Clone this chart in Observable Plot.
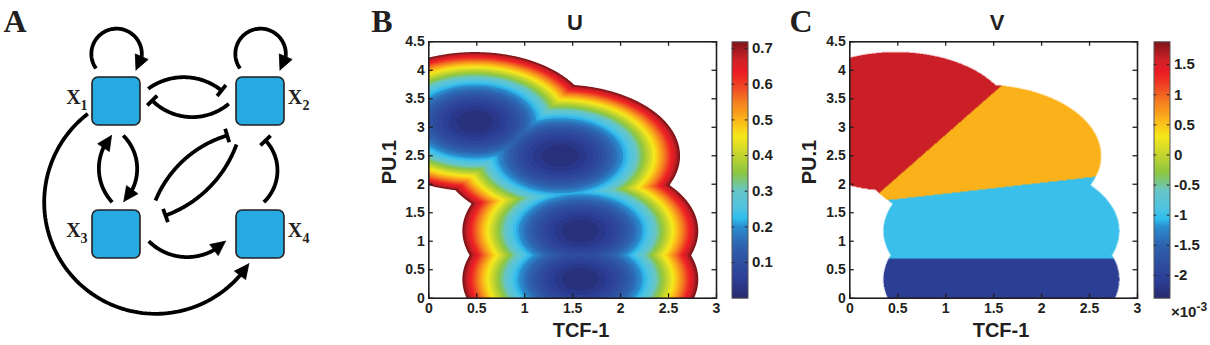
<!DOCTYPE html>
<html><head><meta charset="utf-8">
<script src="https://cdn.jsdelivr.net/npm/d3@7"></script>
<script src="https://cdn.jsdelivr.net/npm/@observablehq/plot@0.6"></script>
<style>
body{margin:0;background:#fff;}
#fig{position:relative;width:1210px;height:345px;overflow:hidden;background:#fff;font-family:"Liberation Sans",Arial,sans-serif;color:#231f20}
.abs{position:absolute;top:0}
.lab{position:absolute;transform:translate(-50%,-50%);font-weight:bold;line-height:1;white-space:nowrap}
.letter{font-family:"Liberation Serif","Times New Roman",serif;font-size:32px}
.ttl{font-size:22px}
.axl{font-size:20px}
.rot{transform:translate(-50%,-50%) rotate(-90deg)}
</style>
</head><body><div id="fig">
<div class="lab letter" style="left:15px;top:21px">A</div>
<div class="lab letter" style="left:382px;top:21px">B</div>
<div class="lab letter" style="left:801px;top:21px">C</div>
<div class="lab ttl" style="left:575px;top:23px">U</div>
<div class="lab ttl" style="left:997px;top:23px">V</div>
<div class="lab axl" style="left:581px;top:330px">TCF-1</div>
<div class="lab axl" style="left:1001px;top:330px">TCF-1</div>
<div class="lab axl rot" style="left:389px;top:162px">PU.1</div>
<div class="lab axl rot" style="left:809px;top:162px">PU.1</div>
<div class="lab" style="left:1189px;top:310px;font-size:15px">×10<sup style="font-size:12px;vertical-align:6px">-3</sup></div>
</div>
<script>
// ---------- Panel A: network ----------
const nodeIds = ["X1","X2","X3","X4"];
const nodeSub = ["1","2","3","4"];
const nodeX = [116,260,116,260];
const nodeY = [101,101,234,234];
const nodeLabelSide = [-1,1,-1,1];

const edgeFrom = ["X1","X2","X1","X2","X1","X3","X3","X2","X4","X3","X1"];
const edgeTo   = ["X1","X2","X2","X1","X3","X1","X2","X3","X2","X4","X4"];
const edgeType = ["act","act","inh","inh","act","act","inh","inh","inh","act","act"];
const edgeStartOff = [[-20.5,-33],[-20.5,-33],[31.7,-12.7],[-31.7,2.3],[6.7,34],[-4.3,-32.3],[39,-34],[-24,43],[3.3,-32.3],[32.3,6.7],[-28.7,12.3]];
const edgeEndOff   = [[19.5,-31.5],[19.5,-31.5],[-39,-11],[35.7,-1],[7.3,-33],[-5,34],[-33.3,34],[49,-19],[5,39],[-35,6.7],[-11.7,29.3]];
const edgeBend = [255,255,75,85,90,85,51,50,-90,-90,-199];

// ---------- Panel B: landscape U ----------
const Umax = 0.719;
const wellX = [0.48,1.37,1.58,1.58];
const wellY = [3.10,2.50,1.18,0.33];
const wellR = [1.22,1.25,1.23,1.23];
const axisXTicks = [0,0.5,1,1.5,2,2.5,3];
const axisYTicks = [0,0.5,1,1.5,2,2.5,3,3.5,4,4.5];
const uBarTicks = [0.1,0.2,0.3,0.4,0.5,0.6,0.7];

// ---------- Panel C: regions V (x10^-3) ----------
const vRegionValue = {red:1.6, orange:0.6, cyan:-1.0, navy:-2.1};
const vBoundaryRedOrange = [[0.327,1.877],[1.5625,3.70]];
const vBoundaryOrangeCyan = [[0.424,1.726],[2.577,2.135]];
const vBoundaryCyanNavy = 0.69;
const vDomain = [-2.38,1.88];
const vBarTicks = [-2,-1.5,-1,-0.5,0,0.5,1,1.5];

// colormap
const cmapT = [0,0.07,0.14,0.21,0.28,0.31,0.35,0.42,0.49,0.56,0.63,0.70,0.77,0.84,0.88,0.93,1.0];
const cmapC = ["#262a6e","#2c3e96","#2e4fa0","#2e64b0","#2a8fd0","#2fbdee","#4fc3e2","#67c6c6","#8dc63f","#c6d52f","#f6e91b","#fbb21a","#f37a21","#ee3a24","#ed1c24","#cf2027","#7d1518"];

const ink = "#231f20";
const fig = document.getElementById("fig");
function place(el, left){ const d=document.createElement("div"); d.className="abs"; d.style.left=left+"px"; d.appendChild(el); fig.insertBefore(d, fig.firstChild); }

// ---- build network geometry
const nodes = nodeIds.map((id,i)=>({id, x:nodeX[i], y:nodeY[i], sub:nodeSub[i], side:nodeLabelSide[i]}));
const nodeById = Object.fromEntries(nodes.map(n=>[n.id,n]));
const headLen = 14.5, headHalf = 7, barHalf = 7;
const arcPts = [], headPts = [], bars = [];
edgeFrom.forEach((f,k)=>{
  const A = nodeById[f], B = nodeById[edgeTo[k]];
  const P = [A.x+edgeStartOff[k][0], A.y+edgeStartOff[k][1]];
  const Q = [B.x+edgeEndOff[k][0], B.y+edgeEndOff[k][1]];
  const dx=Q[0]-P[0], dy=Q[1]-P[1], c=Math.hypot(dx,dy);
  const ux=dx/c, uy=dy/c, nx=uy, ny=-ux;
  const s=Math.sign(edgeBend[k]), b=Math.abs(edgeBend[k])*Math.PI/180;
  const r=c/(2*Math.sin(b/2)), h=r*Math.cos(b/2);
  const mx=(P[0]+Q[0])/2, my=(P[1]+Q[1])/2;
  const ox=mx-nx*s*h, oy=my-ny*s*h;
  const bx=mx+nx*s*(r-h), by=my+ny*s*(r-h);
  const a0=Math.atan2(P[1]-oy,P[0]-ox), ab=Math.atan2(by-oy,bx-ox);
  const dir = Math.cos(a0+b/2-ab) > Math.cos(a0-b/2-ab) ? 1 : -1;
  const aQ = a0+dir*b;
  const trim = edgeType[k]==="act" ? headLen*0.7 : 0;
  const aE = aQ - dir*trim/r;
  const n = 90;
  for(let i=0;i<=n;i++){ const a=a0+(aE-a0)*i/n; arcPts.push({id:k, x:ox+r*Math.cos(a), y:oy+r*Math.sin(a)}); }
  if(edgeType[k]==="act"){
    const aB = aQ - dir*headLen/r;
    const Bx=ox+r*Math.cos(aB), By=oy+r*Math.sin(aB);
    let tx=Q[0]-Bx, ty=Q[1]-By; const L=Math.hypot(tx,ty); tx/=L; ty/=L;
    const px=-ty, py=tx, cx=Q[0]-tx*headLen, cy=Q[1]-ty*headLen;
    headPts.push({id:k,x:Q[0],y:Q[1]},{id:k,x:cx+px*headHalf,y:cy+py*headHalf},{id:k,x:cx-px*headHalf,y:cy-py*headHalf},{id:k,x:Q[0],y:Q[1]});
  } else {
    const tx=-Math.sin(aQ)*dir, ty=Math.cos(aQ)*dir;
    const px=-ty, py=tx;
    bars.push({x1:Q[0]-px*barHalf,y1:Q[1]-py*barHalf,x2:Q[0]+px*barHalf,y2:Q[1]+py*barHalf});
  }
});

const plotA = Plot.plot({
  width: 330, height: 345, margin: 0,
  x: {type:"identity", axis:null}, y: {type:"identity", axis:null},
  style: {background:"transparent", overflow:"visible"},
  marks: [
    Plot.line(arcPts, {x:"x", y:"y", z:"id", stroke:"#000", strokeWidth:3.8, strokeLinecap:"butt", strokeLinejoin:"round"}),
    Plot.line(headPts, {x:"x", y:"y", z:"id", fill:"#000", stroke:"#000", strokeWidth:0.8, strokeLinejoin:"miter"}),
    Plot.link(bars, {x1:"x1", y1:"y1", x2:"x2", y2:"y2", stroke:"#000", strokeWidth:3.8, strokeLinecap:"butt"}),
    Plot.rect(nodes, {x1:d=>d.x-24, x2:d=>d.x+24, y1:d=>d.y-24, y2:d=>d.y+24, rx:6, fill:"#27aae1", stroke:ink, strokeWidth:1.6}),
    Plot.text(nodes, {x:d=>d.x+d.side*(d.side<0?43:34.5), y:d=>d.y-4, text:()=>"X", fontFamily:"Liberation Serif, Times New Roman, serif", fontWeight:"bold", fontSize:20, fill:ink}),
    Plot.text(nodes, {x:d=>d.x+d.side*(d.side<0?32.5:45.5), y:d=>d.y+4, text:"sub", fontFamily:"Liberation Serif, Times New Roman, serif", fontWeight:"bold", fontSize:14, fill:ink})
  ]
});
place(plotA, 0);

// ---- landscape helpers
function U(x,y){
  let m=Infinity;
  for(let i=0;i<wellX.length;i++){ const d=((x-wellX[i])**2+(y-wellY[i])**2)/(wellR[i]**2); if(d<m) m=d; }
  return Umax*m;
}
function lineY(seg,x){ const [[x0,y0],[x1,y1]]=seg; return y0+(x-x0)*(y1-y0)/(x1-x0); }
function lineX(seg,y){ const [[x0,y0],[x1,y1]]=seg; return x0+(y-y0)*(x1-x0)/(y1-y0); }
function V(x,y){
  if(U(x,y)>Umax) return NaN;
  if(y<vBoundaryCyanNavy) return vRegionValue.navy;
  if(y<lineY(vBoundaryOrangeCyan,x)) return vRegionValue.cyan;
  if(x<lineX(vBoundaryRedOrange,y)) return vRegionValue.red;
  return vRegionValue.orange;
}

const axisStyle = {background:"transparent", fontFamily:"Liberation Sans, Arial, sans-serif", fontSize:"14px", fontWeight:"bold", color:ink, overflow:"visible"};
const tkX = 4.5/95.9, tkY = 4.5/56.98;
function frameMarks(){
  return [
    Plot.ruleX(axisXTicks, {x:d=>d, y1:0, y2:tkY, stroke:ink, strokeWidth:1.3}),
    Plot.ruleX(axisXTicks, {x:d=>d, y1:4.5-tkY, y2:4.5, stroke:ink, strokeWidth:1.3}),
    Plot.ruleY(axisYTicks, {y:d=>d, x1:0, x2:tkX, stroke:ink, strokeWidth:1.3}),
    Plot.ruleY(axisYTicks, {y:d=>d, x1:3-tkX, x2:3, stroke:ink, strokeWidth:1.3}),
    Plot.frame({stroke:ink, strokeWidth:1.6}),
    Plot.axisX(axisXTicks, {tickSize:0, tickPadding:5, tickFormat:d=>String(d), label:null}),
    Plot.axisY(axisYTicks, {tickSize:0, tickPadding:4, tickFormat:d=>String(d), label:null})
  ];
}
const uLevels = d3.range(40,0,-1).map(i=>-Umax*i/40);

const plotB = Plot.plot({
  width: 365, height: 345, marginLeft: 68.3, marginRight: 9, marginTop: 41.3, marginBottom: 47.3,
  x: {domain:[0,3]}, y: {domain:[0,4.5]},
  color: {type:"linear", domain: cmapT.map(t=>-t*Umax).reverse(), range: cmapC.slice().reverse(), interpolate:"rgb", clamp:true},
  style: axisStyle,
  marks: [
    Plot.contour({fill:(x,y)=>-U(x,y), x1:0, x2:3, y1:0, y2:4.5, thresholds:uLevels, pixelSize:1, stroke:"none"}),
    ...frameMarks()
  ]
});
place(plotB, 360);

function colorbar(domain, ticks, tickFmt){
  return Plot.plot({
    width: 62, height: 345, marginLeft: 6.5, marginRight: 39.5, marginTop: 41.3, marginBottom: 47.3,
    x: {domain:[0,1], axis:null}, y: {domain},
    color: {type:"linear", domain: cmapT.map(t=>domain[0]+t*(domain[1]-domain[0])), range: cmapC, interpolate:"rgb"},
    style: {...axisStyle, fontSize:"15px"},
    marks: [
      Plot.raster({fill:(x,y)=>y, x1:0, x2:1, y1:domain[0], y2:domain[1], pixelSize:1}),
      Plot.ruleY(ticks, {y:d=>d, x1:0, x2:0.17, stroke:ink, strokeWidth:1}),
      Plot.ruleY(ticks, {y:d=>d, x1:0.83, x2:1, stroke:ink, strokeWidth:1}),
      Plot.frame({stroke:"#555", strokeWidth:1}),
      Plot.axisY(ticks, {anchor:"right", tickSize:0, tickPadding:4, tickFormat:tickFmt, label:null})
    ]
  });
}
place(colorbar([0,Umax], uBarTicks, d=>String(d)), 725);

const plotC = Plot.plot({
  width: 367, height: 345, marginLeft: 69.3, marginRight: 10, marginTop: 41.3, marginBottom: 47.3,
  x: {domain:[0,3]}, y: {domain:[0,4.5]},
  color: {type:"linear", domain: cmapT.map(t=>vDomain[0]+t*(vDomain[1]-vDomain[0])), range: cmapC, interpolate:"rgb"},
  style: axisStyle,
  marks: [
    Plot.raster({fill:(x,y)=>V(x,y), x1:0, x2:3, y1:0, y2:4.5, pixelSize:0.5}),
    ...frameMarks()
  ]
});
place(plotC, 780);
place(colorbar(vDomain, vBarTicks, d=>String(d)), 1147);
</script>
</body></html>
